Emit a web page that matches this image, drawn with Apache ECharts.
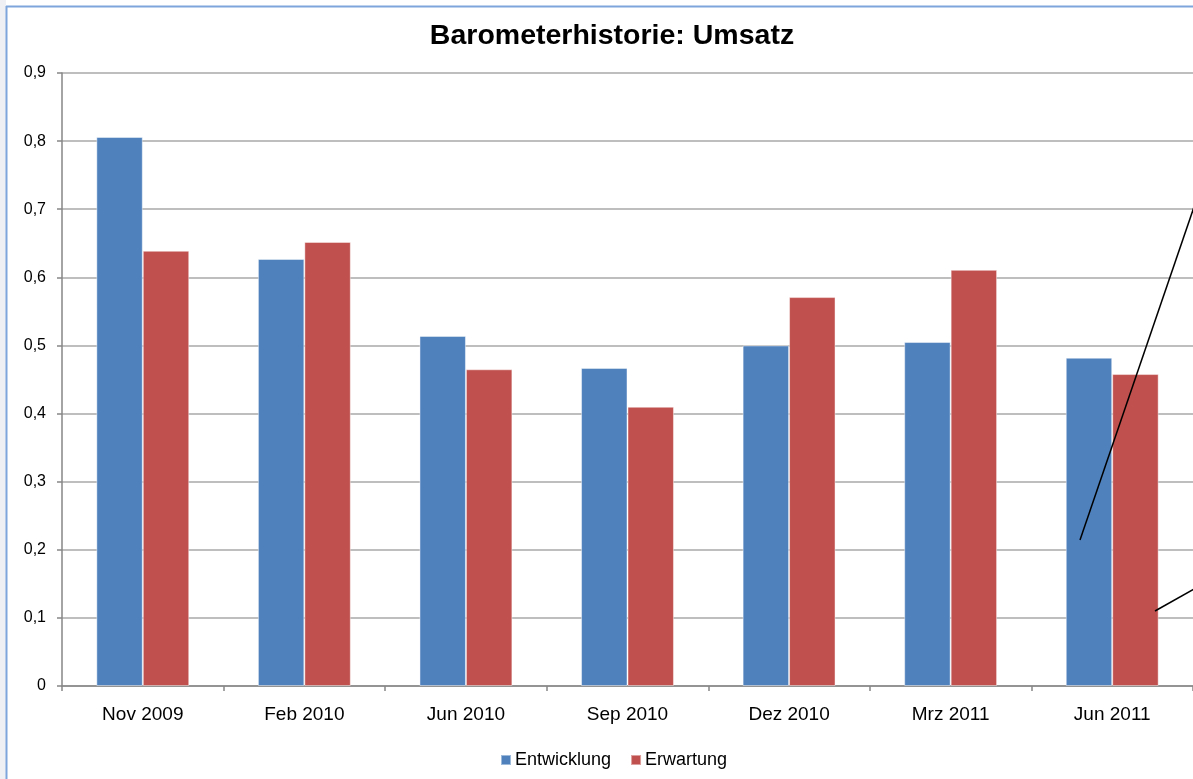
<!DOCTYPE html>
<html>
<head>
<meta charset="utf-8">
<script src="https://cdn.jsdelivr.net/npm/echarts@6/dist/echarts.min.js"></script>
<style>
  html, body { margin: 0; padding: 0; background: #fff; }
  #container { width: 1193px; height: 779px; }
</style>
</head>
<body>
<div id="container"></div>
<script>
var categories = ['Nov 2009', 'Feb 2010', 'Jun 2010', 'Sep 2010', 'Dez 2010', 'Mrz 2011', 'Jun 2011'];
var entwicklung = [0.806, 0.627, 0.514, 0.467, 0.500, 0.505, 0.482];
var erwartung = [0.639, 0.652, 0.465, 0.410, 0.571, 0.611, 0.458];
var seriesNames = ['Entwicklung', 'Erwartung'];

var dom = document.getElementById('container');
var myChart = echarts.init(dom);

var option = {
  backgroundColor: '#fff',
  animation: false,
  textStyle: { fontFamily: 'Liberation Sans, Arial, sans-serif', color: '#000' },
  title: {
    text: 'Barometerhistorie: Umsatz',
    left: 612,
    top: 22,
    textAlign: 'center',
    padding: 0,
    textStyle: { fontSize: 28.5, fontWeight: 'bold', color: '#000', fontFamily: 'Liberation Sans, Arial, sans-serif' }
  },
  legend: {
    data: seriesNames,
    left: 500,
    top: 751,
    padding: 0,
    itemWidth: 10,
    itemHeight: 10,
    itemGap: 19,
    icon: 'rect',
    textStyle: { fontSize: 18, color: '#000', padding: [0, 0, 0, -1] }
  },
  grid: {
    left: 62,
    right: -3,
    top: 73,
    bottom: 93,
    containLabel: false
  },
  xAxis: {
    type: 'category',
    data: categories,
    axisLine: { lineStyle: { color: '#868686', width: 1.5 } },
    axisTick: { show: true, length: 5, lineStyle: { color: '#868686', width: 1.5 } },
    axisLabel: { fontSize: 19, color: '#000', margin: 19 }
  },
  yAxis: {
    type: 'value',
    min: 0,
    max: 0.9,
    interval: 0.1,
    axisLine: { show: true, lineStyle: { color: '#868686', width: 1.5 } },
    axisTick: { show: true, length: 5, lineStyle: { color: '#868686', width: 1.5 } },
    splitLine: { lineStyle: { color: '#a8a8a8', width: 1.5 } },
    axisLabel: {
      fontSize: 16,
      color: '#000',
      margin: 16,
      formatter: function (v) {
        return (Math.round(v * 10) / 10).toString().replace('.', ',');
      }
    }
  },
  series: [
    {
      name: seriesNames[0],
      type: 'bar',
      data: entwicklung,
      barGap: '0%',
      barCategoryGap: '42.5%',
      itemStyle: { color: '#4F81BD', borderColor: 'rgba(255,255,255,0.45)', borderWidth: 1 }
    },
    {
      name: seriesNames[1],
      type: 'bar',
      data: erwartung,
      barGap: '0%',
      barCategoryGap: '42.5%',
      itemStyle: { color: '#C0504D', borderColor: 'rgba(255,255,255,0.45)', borderWidth: 1 }
    }
  ],
  graphic: [
    // frame of the original chart box
    { type: 'rect', shape: { x: 0, y: 0, width: 6, height: 779 }, style: { fill: '#eef0f3' }, silent: true },
    { type: 'line', shape: { x1: 6.5, y1: 6, x2: 6.5, y2: 779 }, style: { stroke: '#7ea6dc', lineWidth: 2 }, silent: true },
    { type: 'line', shape: { x1: 6, y1: 6.5, x2: 1193, y2: 6.5 }, style: { stroke: '#7ea6dc', lineWidth: 2 }, silent: true },
    // callout leader lines
    { type: 'line', z: 100, shape: { x1: 1080, y1: 540, x2: 1194, y2: 207 }, style: { stroke: '#000', lineWidth: 1.5 }, silent: true },
    { type: 'line', z: 100, shape: { x1: 1155, y1: 611, x2: 1194, y2: 589 }, style: { stroke: '#000', lineWidth: 1.5 }, silent: true }
  ]
};

if (option && typeof option === 'object') {
  myChart.setOption(option);
}
</script>
</body>
</html>
